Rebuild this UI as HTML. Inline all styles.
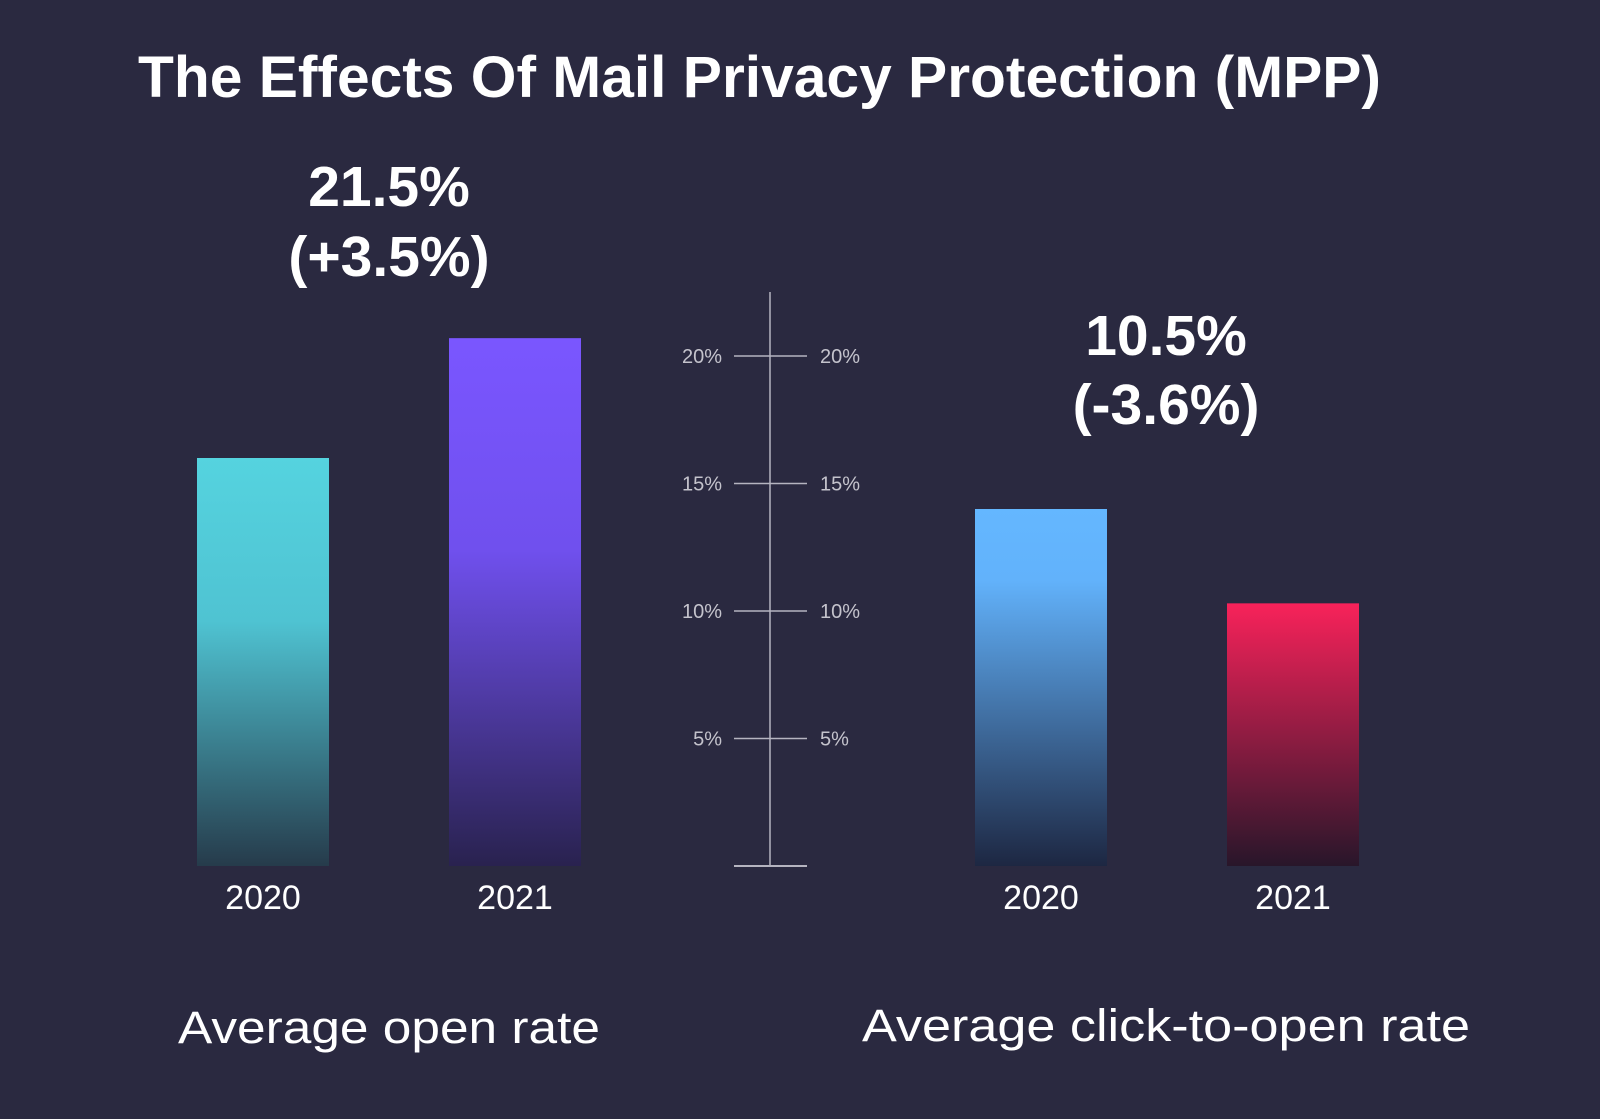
<!DOCTYPE html>
<html><head><meta charset="utf-8"><style>
html,body{margin:0;padding:0;background:#2a2940;}
svg{display:block;font-family:"Liberation Sans",sans-serif;}
</style></head><body>
<svg id="chart" width="1600" height="1119" viewBox="0 0 1600 1119">
<defs>
<linearGradient id="g0" x1="0" y1="0" x2="0" y2="1"><stop offset="0" stop-color="#55d3df"/><stop offset="0.4" stop-color="#4fc3d2"/><stop offset="1" stop-color="#263b4b"/></linearGradient>
<linearGradient id="g1" x1="0" y1="0" x2="0" y2="1"><stop offset="0" stop-color="#7a56ff"/><stop offset="0.4" stop-color="#7050ee"/><stop offset="1" stop-color="#29224f"/></linearGradient>
<linearGradient id="g2" x1="0" y1="0" x2="0" y2="1"><stop offset="0" stop-color="#64b7ff"/><stop offset="0.2" stop-color="#62b2fb"/><stop offset="1" stop-color="#1d2742"/></linearGradient>
<linearGradient id="g3" x1="0" y1="0" x2="0" y2="1"><stop offset="0" stop-color="#f8225a"/><stop offset="1" stop-color="#28162a"/></linearGradient>
</defs>
<rect width="1600" height="1119" fill="#2a2940"/>
<text x="138" y="97" font-size="58" font-weight="bold" fill="#fff" textLength="1243" lengthAdjust="spacingAndGlyphs">The Effects Of Mail Privacy Protection (MPP)</text>
<g id="axis"></g>
<g id="bars"></g>
<g id="labels"></g>
</svg>
<script>
const categories = ["2020", "2021", "2020", "2021"];
const values = [16.0, 20.7, 14.0, 10.3];
const groupTitles = ["Average open rate", "Average click-to-open rate"];
const headline = ["21.5%", "10.5%"];
const changeLabels = ["(+3.5%)", "(-3.6%)"];
const tickValues = [5, 10, 15, 20];
const tickLabels = ["5%", "10%", "15%", "20%"];

const NS = "http://www.w3.org/2000/svg";
const y0 = 866, pxPer = 25.5;
function y(v){ return y0 - v * pxPer; }
const barX = [197, 449, 975, 1227], barW = 132;
const grads = ["url(#g0)","url(#g1)","url(#g2)","url(#g3)"];
function mk(tag, attrs, parent){ const e=document.createElementNS(NS,tag); for(const k in attrs) e.setAttribute(k,attrs[k]); parent.appendChild(e); return e; }

const axis = document.getElementById('axis');
let l = mk('line',{x1:770,x2:770,y1:292,y2:y(0),stroke:'#b5b4c0','stroke-width':1.5},axis);


l = mk('line',{x1:734,x2:807,y1:y(0),y2:y(0),stroke:'#b5b4c0','stroke-width':2},axis);


tickValues.forEach((v,i)=>{
  const t = mk('line',{x1:734,x2:807,y1:y(v),y2:y(v),stroke:'#b5b4c0','stroke-width':1.5},axis);
  
  
  const a = mk('text',{x:722,y:y(v)+7,'text-anchor':'end','font-size':20,fill:'#c4c3cc'},axis);
  a.textContent = tickLabels[i];
  
  
  const b = mk('text',{x:820,y:y(v)+7,'font-size':20,fill:'#c4c3cc'},axis);
  b.textContent = tickLabels[i];
  
  
});

const bars = document.getElementById('bars');
values.forEach((v,i)=>{
  const r = mk('rect',{x:barX[i],y:y(v),width:barW,height:y0-y(v),fill:grads[i]},bars);
  
  
  const t = mk('text',{x:barX[i]+barW/2,y:909,'text-anchor':'middle','font-size':34,fill:'#fff'},bars);
  t.textContent = categories[i];
  
  
});

const labels = document.getElementById('labels');
const gx = [389, 1166], hy = [[206,276],[355,424]], ty = [1043, 1041], tw=[422,608];
groupTitles.forEach((g,i)=>{
  const h = mk('text',{x:gx[i],y:hy[i][0],'text-anchor':'middle','font-size':57,'font-weight':'bold',fill:'#fff'},labels);
  h.textContent = headline[i];
  
  
  const c = mk('text',{x:gx[i],y:hy[i][1],'text-anchor':'middle','font-size':57,'font-weight':'bold',fill:'#fff'},labels);
  c.textContent = changeLabels[i];
  
  
  const t = mk('text',{x:gx[i],y:ty[i],'text-anchor':'middle','font-size':45,fill:'#fff',textLength:tw[i],lengthAdjust:'spacingAndGlyphs'},labels);
  t.textContent = g;
  
  
});
</script>
</body></html>
